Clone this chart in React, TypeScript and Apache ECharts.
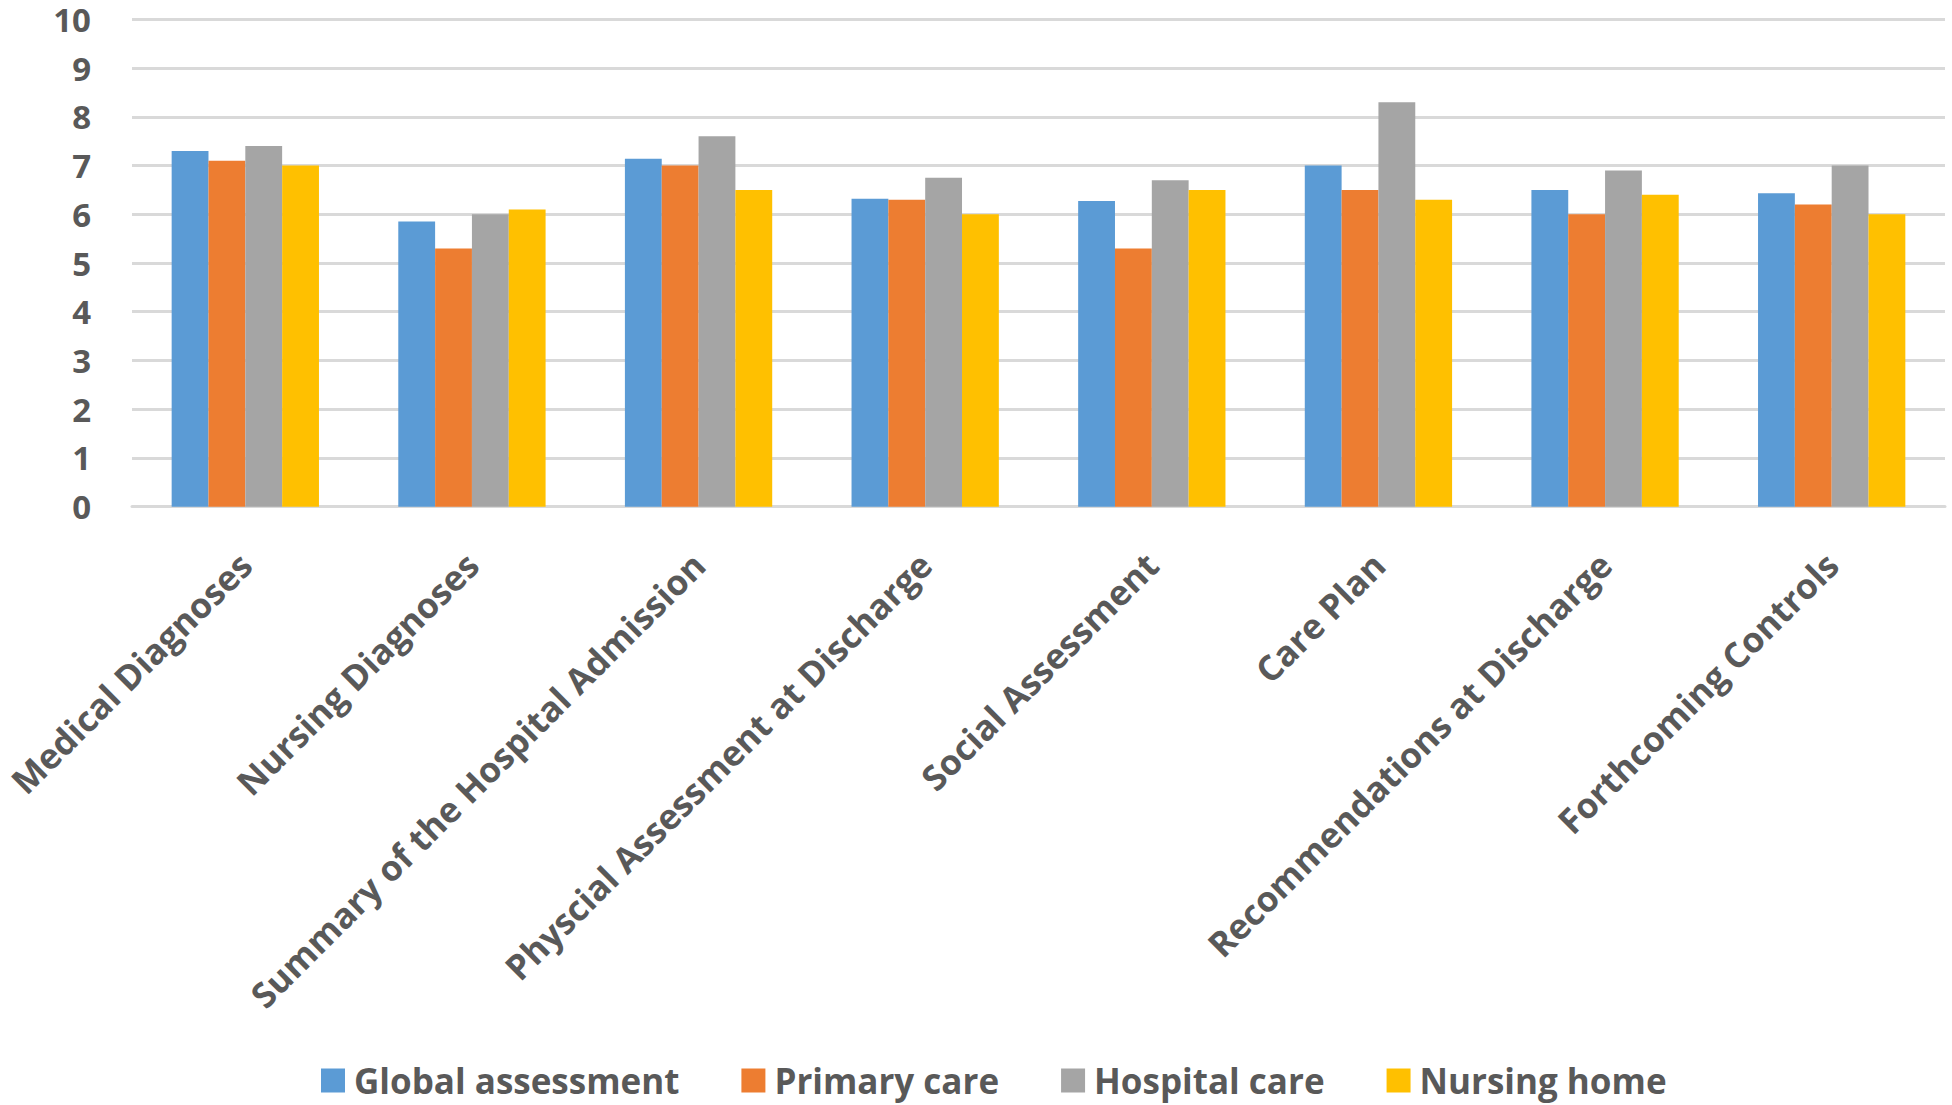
import React, { useEffect, useRef } from "react";
import * as echarts from "echarts";

const categories = [
  "Medical Diagnoses",
  "Nursing Diagnoses",
  "Summary of the Hospital Admission",
  "Physcial Assessment at Discharge",
  "Social Assessment",
  "Care Plan",
  "Recommendations at Discharge",
  "Forthcoming Controls",
];

const seriesNames = ["Global assessment", "Primary care", "Hospital care", "Nursing home"];

const globalAssessment = [7.3, 5.85, 7.14, 6.32, 6.27, 7.0, 6.5, 6.43];
const primaryCare = [7.1, 5.3, 7.0, 6.3, 5.3, 6.5, 6.0, 6.2];
const hospitalCare = [7.4, 6.0, 7.6, 6.75, 6.7, 8.3, 6.9, 7.0];
const nursingHome = [7.0, 6.1, 6.5, 6.0, 6.5, 6.3, 6.4, 6.0];

const colors = ["#5B9BD5", "#ED7D31", "#A5A5A5", "#FFC000"];

const FONT = "'Open Sans', 'DejaVu Sans', sans-serif";
const TEXT_COLOR = "#595959";

export default function App() {
  const ref = useRef<HTMLDivElement>(null);

  useEffect(() => {
    if (!ref.current) return;
    const chart = echarts.init(ref.current, null, { renderer: "svg" });
    const data = [globalAssessment, primaryCare, hospitalCare, nursingHome];
    chart.setOption({
      animation: false,
      backgroundColor: "#ffffff",
      grid: { left: 132, right: 7, top: 19.3, bottom: 598.3, containLabel: false },
      legend: {
        bottom: 2,
        left: 316,
        itemWidth: 24,
        itemHeight: 24,
        itemGap: 62,
        icon: "rect",
        textStyle: { fontFamily: FONT, fontSize: 35, fontWeight: "bold", color: TEXT_COLOR, padding: [0, 0, 0, 4] },
        data: seriesNames,
      },
      xAxis: {
        type: "category",
        data: categories,
        axisLine: { show: true, lineStyle: { color: "#D9D9D9", width: 3 } },
        axisTick: { show: false },
        axisLabel: {
          rotate: 45,
          interval: 0,
          margin: 52,
          fontFamily: FONT,
          fontSize: 35,
          fontWeight: "bold",
          color: TEXT_COLOR,
        },
      },
      yAxis: {
        type: "value",
        min: 0,
        max: 10,
        interval: 1,
        axisLine: { show: false },
        axisTick: { show: false },
        splitLine: { lineStyle: { color: "#D9D9D9", width: 3 } },
        axisLabel: {
          margin: 41,
          fontFamily: FONT,
          fontSize: 33,
          lineHeight: 30,
          fontWeight: "bold",
          color: TEXT_COLOR,
        },
      },
      series: seriesNames.map((name, i) => ({
        name,
        type: "bar",
        data: data[i],
        barGap: "0%",
        barCategoryGap: "35%",
        itemStyle: { color: colors[i] },
      })),
    });
    return () => chart.dispose();
  }, []);

  return (
    <div
      ref={ref}
      style={{ position: "fixed", left: 0, top: 0, width: 1952, height: 1105 }}
    />
  );
}
